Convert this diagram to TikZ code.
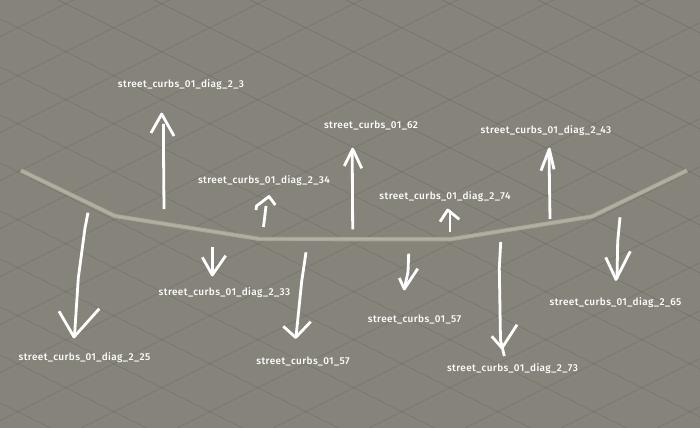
\documentclass[tikz,border=0pt]{standalone}
\usepackage{fontspec}
\setmainfont{Fira Sans Medium}[LetterSpace=4]
\definecolor{ground}{HTML}{85837A}
\definecolor{gridline}{HTML}{6B6A62}
\definecolor{curb}{HTML}{A6A395}
\definecolor{curbedge}{HTML}{B2AFA1}
\tikzset{
  x=0.75pt,y=-0.75pt,
  tag/.style={text=white,inner sep=0pt,font=\fontsize{7.5pt}{8pt}\selectfont},
  gridstroke/.style={draw=gridline,line width=0.3pt,opacity=.75},
  shaft/.style={draw=white,line width=2.1pt,line join=round},
}
\begin{document}
\begin{tikzpicture}
\useasboundingbox (0,0) rectangle (700,428);
\fill[ground] (0,0) rectangle (700,428);
\begin{scope}
\clip (0,0) rectangle (700,428);
% isometric ground grid: rhombi 96 x 48 through (17.7,27.7)
\foreach \k in {-8,...,16}{
  \draw[gridstroke] ({17.7+96*\k-100},{27.7-50}) -- ({17.7+96*\k+1000},{27.7+500});
  \draw[gridstroke] ({17.7+96*\k+100},{27.7-50}) -- ({17.7+96*\k-1000},{27.7+500});
}
\end{scope}
% curb
\coordinate (c1) at (21,170.5);
\coordinate (c2) at (115,216);
\coordinate (c3) at (260,239);
\coordinate (c4) at (450,239.3);
\coordinate (c5) at (591.7,216.5);
\coordinate (c6) at (687,170.5);
\draw[curb,line width=3.2pt,line join=round] (c1) -- (c2) -- (c3) -- (c4) -- (c5) -- (c6);
\draw[curbedge,line width=1.8pt,line join=round] (c1) -- (c2) -- (c3) -- (c4) -- (c5) -- (c6);
% labels
\node[tag] (t3)  at (181,84.5)  {street\_curbs\_01\_diag\_2\_3};
\node[tag] (t34) at (264,181) {street\_curbs\_01\_diag\_2\_34};
\node[tag] (t62) at (371,126) {street\_curbs\_01\_62};
\node[tag] (t43) at (546,131) {street\_curbs\_01\_diag\_2\_43};
\node[tag] (t74) at (445,197) {street\_curbs\_01\_diag\_2\_74};
\node[tag] (t25) at (84.5,358) {street\_curbs\_01\_diag\_2\_25};
\node[tag] (t33) at (224.5,293) {street\_curbs\_01\_diag\_2\_33};
\node[tag] (t57a) at (303,362) {street\_curbs\_01\_57};
\node[tag] (t57b) at (414.5,320) {street\_curbs\_01\_57};
\node[tag] (t73) at (512.5,369) {street\_curbs\_01\_diag\_2\_73};
\node[tag] (t65) at (615.5,303) {street\_curbs\_01\_diag\_2\_65};
% hand-drawn arrows
\draw[shaft] (164,209) -- (163.5,150) -- (163.5,124);
\draw[shaft] (151,133) -- (161.7,114) -- (174,136);
\draw[shaft] (263.5,227) -- (266,206);
\draw[shaft] (256,210) -- (256.5,206) -- (269,196.5) -- (275.3,205);
\draw[shaft] (352.7,229.3) -- (352.2,150);
\draw[shaft] (344.3,166) -- (352.7,149) -- (361.7,168.3);
\draw[shaft] (550,219) -- (549,150);
\draw[shaft] (541,170.7) -- (549.3,149) -- (554,169.3);
\draw[shaft] (450,231.7) -- (450,211);
\draw[shaft] (440,221.7) -- (447.7,210) -- (459.3,219.3);
\draw[shaft] (88,212.7) -- (85,228) -- (78.3,278) -- (74.5,336);
\draw[shaft] (59,311.3) -- (74,337) -- (99.3,308.7);
\draw[shaft] (212.3,247.3) -- (212.3,275);
\draw[shaft] (202.3,257.3) -- (212.3,275) -- (225.7,255.7);
\draw[shaft] (306,252.3) -- (301.7,281.3) -- (296,337);
\draw[shaft] (283.3,326.3) -- (295.7,337.5) -- (310.7,321.7);
\draw[shaft] (408.7,253.7) -- (408,272) -- (404.3,289);
\draw[shaft] (399.3,278) -- (404.3,289) -- (417.7,268.7);
\draw[shaft] (500.7,242) -- (499.3,268) -- (500.5,340) -- (504.3,356);
\draw[shaft] (491.7,336.3) -- (502,348) -- (517,324.7);
\draw[shaft] (620,217.3) -- (617.7,241.3) -- (617,279);
\draw[shaft] (605.7,257.3) -- (616,279.5) -- (630.3,251.3);
\end{tikzpicture}
\end{document}
